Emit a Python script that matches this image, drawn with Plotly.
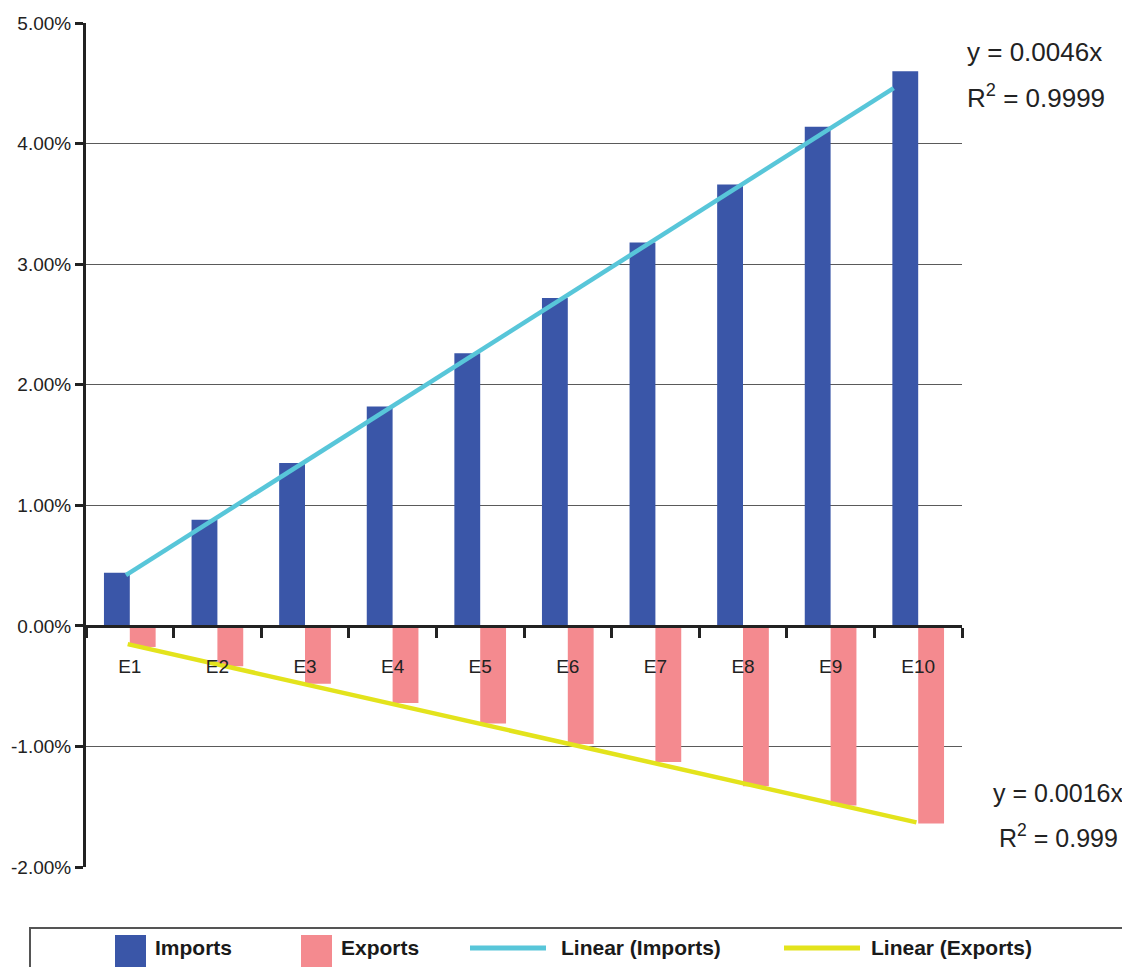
import plotly.graph_objects as go

categories = ["E1", "E2", "E3", "E4", "E5", "E6", "E7", "E8", "E9", "E10"]
imports = [0.44, 0.88, 1.35, 1.82, 2.26, 2.72, 3.18, 3.66, 4.14, 4.60]
exports = [-0.175, -0.335, -0.48, -0.64, -0.81, -0.98, -1.13, -1.33, -1.49, -1.64]

# trend line endpoints (category index positions, percent values)
trend_imports_x = [-0.044, 8.72]
trend_imports_y = [0.42, 4.46]
trend_exports_x = [-0.024, 8.98]
trend_exports_y = [-0.152, -1.63]

eq_imports = ["y = 0.0046x", "R<sup>2</sup> = 0.9999"]
eq_exports = ["y = 0.0016x", "R<sup>2</sup> = 0.999"]

y_ticks = [-2, -1, 0, 1, 2, 3, 4, 5]
y_ticktext = ["%.2f%%" % v for v in y_ticks]

series_names = ["Imports", "Exports", "Linear (Imports)", "Linear (Exports)"]
c_imp = "#3A56A8"
c_exp = "#F48A8F"
c_limp = "#58C6D9"
c_lexp = "#E3E31C"

FONT = "Liberation Sans, Arial, sans-serif"
OFF = 8  # page body margin
W, H = 1130 - OFF, 967 - OFF
# plot area in reference-page pixels
L, R, T, B = 86, 962, 23, 867


def px(x):
    return (x - L) / (R - L)


def py(y):
    return (B - y) / (B - T)


fig = go.Figure()
fig.add_trace(go.Bar(x=categories, y=imports, name=series_names[0],
                     marker=dict(color=c_imp, line=dict(width=0)), showlegend=False))
fig.add_trace(go.Bar(x=categories, y=exports, name=series_names[1],
                     marker=dict(color=c_exp, line=dict(width=0)), showlegend=False))
fig.add_trace(go.Scatter(x=trend_imports_x, y=trend_imports_y, name=series_names[2],
                         mode="lines", line=dict(color=c_limp, width=4.5),
                         xaxis="x2", showlegend=False))
fig.add_trace(go.Scatter(x=trend_exports_x, y=trend_exports_y, name=series_names[3],
                         mode="lines", line=dict(color=c_lexp, width=4.5),
                         xaxis="x2", showlegend=False))

fig.update_layout(
    width=W, height=H, autosize=False,
    margin=dict(l=L - OFF, r=W - (R - OFF), t=T - OFF, b=H - (B - OFF), autoexpand=False),
    paper_bgcolor="white", plot_bgcolor="white",
    barmode="group", bargap=0.41, bargroupgap=0,
    font=dict(family=FONT, color="#222222"),
    xaxis=dict(
        type="category", range=[-0.5, 9.5],
        anchor="free", position=2 / 7, automargin=False,
        showline=True, linecolor="#222222", linewidth=3,
        ticks="outside", tickson="boundaries", ticklen=10, tickwidth=2.5,
        tickcolor="#222222", ticklabelstandoff=22,
        tickfont=dict(size=19, color="#222222", family=FONT),
        showgrid=False, zeroline=False,
    ),
    xaxis2=dict(
        overlaying="x", range=[-0.5, 9.5], visible=False, automargin=False,
    ),
    yaxis=dict(
        range=[-2, 5], tickvals=y_ticks, ticktext=y_ticktext, automargin=False,
        showline=True, linecolor="#222222", linewidth=3,
        ticks="outside", ticklen=8, tickwidth=2.5, tickcolor="#222222",
        tickfont=dict(size=19, color="#222222", family=FONT),
        showgrid=True, gridcolor="#5a5a5a", gridwidth=1.3,
        zeroline=False,
    ),
)

# equation annotations
anns = []
anns.append(dict(x=px(965), y=py(52), xref="paper", yref="paper", text=eq_imports[0],
                 showarrow=False, xanchor="left", yanchor="middle",
                 font=dict(size=26, color="#222222", family=FONT)))
anns.append(dict(x=px(965), y=py(97), xref="paper", yref="paper", text=eq_imports[1],
                 showarrow=False, xanchor="left", yanchor="middle",
                 font=dict(size=26, color="#222222", family=FONT)))
anns.append(dict(x=px(1125), y=py(793), xref="paper", yref="paper", text=eq_exports[0],
                 showarrow=False, xanchor="right", yanchor="middle",
                 font=dict(size=25, color="#222222", family=FONT)))
anns.append(dict(x=px(1120), y=py(836), xref="paper", yref="paper", text=eq_exports[1],
                 showarrow=False, xanchor="right", yanchor="middle",
                 font=dict(size=25, color="#222222", family=FONT)))

# manual legend
shapes = []
shapes.append(dict(type="rect", xref="paper", yref="paper",
                   x0=px(30), x1=px(1128), y0=py(990), y1=py(928),
                   line=dict(color="#555555", width=2), fillcolor="rgba(0,0,0,0)"))
leg_y = 948
shapes.append(dict(type="rect", xref="paper", yref="paper",
                   x0=px(115), x1=px(146), y0=py(967), y1=py(935),
                   line=dict(width=0), fillcolor=c_imp))
shapes.append(dict(type="rect", xref="paper", yref="paper",
                   x0=px(301), x1=px(332), y0=py(967), y1=py(935),
                   line=dict(width=0), fillcolor=c_exp))
shapes.append(dict(type="line", xref="paper", yref="paper",
                   x0=px(470), x1=px(546), y0=py(leg_y), y1=py(leg_y),
                   line=dict(width=5, color=c_limp)))
shapes.append(dict(type="line", xref="paper", yref="paper",
                   x0=px(784), x1=px(860), y0=py(leg_y), y1=py(leg_y),
                   line=dict(width=5, color=c_lexp)))
for name, x in zip(series_names, [153, 339, 559, 869]):
    anns.append(dict(x=px(x), y=py(leg_y), xref="paper", yref="paper",
                     text="<b>%s</b>" % name, showarrow=False,
                     xanchor="left", yanchor="middle",
                     font=dict(size=21, color="#1a1a1a", family=FONT)))

fig.update_layout(annotations=anns, shapes=shapes)
fig.write_html("out.html")
